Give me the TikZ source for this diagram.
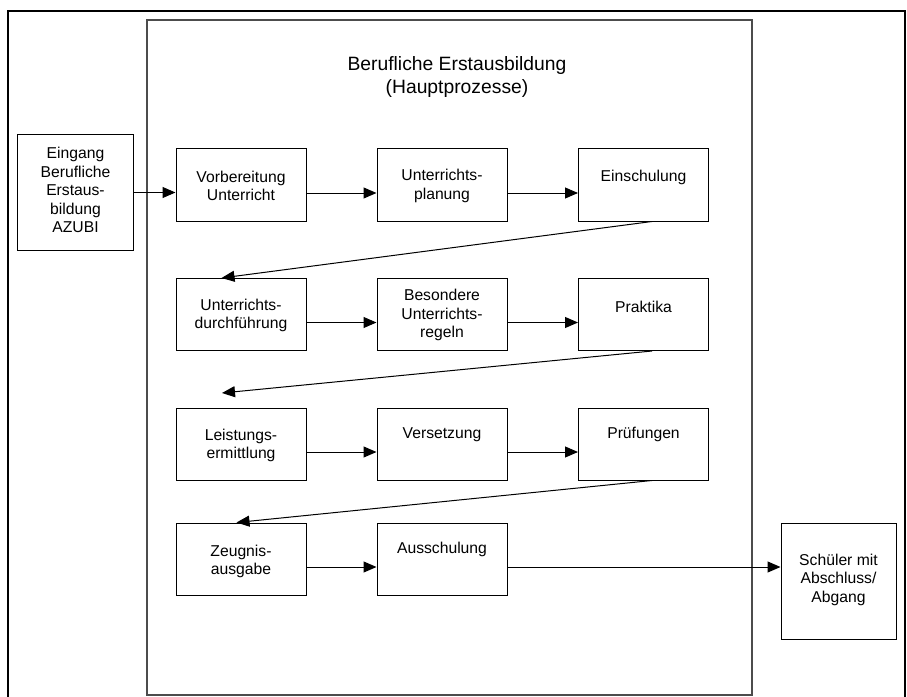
\documentclass[tikz,border=0pt]{standalone}
\usepackage{fontspec}
\setmainfont{Liberation Sans}
\usetikzlibrary{arrows.meta,calc}

\tikzset{
  procbox/.style={draw=black, line width=1bp, minimum width=130bp, minimum height=72bp, inner sep=0pt},
  sidebox/.style={draw=black, line width=1bp, inner sep=0pt},
  boxtext/.style={align=center, inner sep=0pt, font=\fontsize{15.7bp}{18.5bp}\selectfont},
  titletext/.style={align=center, inner sep=0pt, font=\fontsize{19.3bp}{23bp}\selectfont},
  flow/.style={line width=1bp, -{Triangle[length=13bp,width=11bp]}},
  outerframe/.style={line width=2.5bp, black},
  innerframe/.style={line width=1.5bp, draw=black!70}
}

\begin{document}
\begin{tikzpicture}[x=1bp, y=-1bp]
  \useasboundingbox (0,0) rectangle (907,697);

  % frames
  \draw[outerframe] (8,700) -- (8,11) -- (905,11) -- (905,700);
  \draw[innerframe] (147,20) rectangle (752,695);

  % title
  \node[titletext] (title) at (457,77.5) {Berufliche Erstausbildung\\(Hauptprozesse)};

  % input and output boxes
  \node[sidebox, minimum width=115bp, minimum height=115bp] (eing) at (75.5,192.5) {};
  \node[boxtext] (eingT) at (75.5,190) {Eingang\\Berufliche\\Erstaus-\\bildung\\AZUBI};
  \node[sidebox, minimum width=115bp, minimum height=116bp] (sch) at (838.5,581) {};
  \node[boxtext] (schT) at (838.5,579.5) {Schüler mit\\Abschluss/\\Abgang};

  % process boxes, row 1
  \node[procbox] (vorb) at (241,185) {};
  \node[boxtext] (vorbT) at (241,186) {Vorbereitung\\Unterricht};
  \node[procbox] (plan) at (442,185) {};
  \node[boxtext] (planT) at (442,186) {Unterrichts-\\planung};
  \node[procbox] (einsch) at (643.5,185) {};
  \node[boxtext] (einschT) at (643.5,177.5) {Einschulung};

  % row 2
  \node[procbox] (durch) at (241,314.5) {};
  \node[boxtext] (durchT) at (241,315.5) {Unterrichts-\\durchführung};
  \node[procbox] (bes) at (442,314.5) {};
  \node[boxtext] (besT) at (442,315) {Besondere\\Unterrichts-\\regeln};
  \node[procbox] (prak) at (643.5,314.5) {};
  \node[boxtext] (prakT) at (643.5,306.5) {Praktika};

  % row 3
  \node[procbox] (leist) at (241,444) {};
  \node[boxtext] (leistT) at (241,445.5) {Leistungs-\\ermittlung};
  \node[procbox] (vers) at (442,444) {};
  \node[boxtext] (versT) at (442,434.5) {Versetzung};
  \node[procbox] (pruef) at (643.5,444) {};
  \node[boxtext] (pruefT) at (643.5,434.5) {Prüfungen};

  % row 4
  \node[procbox] (zeug) at (241,559) {};
  \node[boxtext] (zeugT) at (241,561.5) {Zeugnis-\\ausgabe};
  \node[procbox] (aus) at (442,559) {};
  \node[boxtext] (ausT) at (442,549.5) {Ausschulung};

  % free end of the arrow leaving Praktika
  \coordinate (gap3) at (222,393);
  % connector ends on the exit line
  \coordinate (ausOut) at ($(aus.east)+(0,8)$);
  \coordinate (schIn) at (ausOut -| sch.west);

  % horizontal flow
  \draw[flow] (eing.east) -- (eing.east -| vorb.west);
  \draw[flow] ($(vorb.east)+(0,8)$) -- ($(plan.west)+(0,8)$);
  \draw[flow] ($(plan.east)+(0,8)$) -- ($(einsch.west)+(0,8)$);
  \draw[flow] ($(durch.east)+(0,8)$) -- ($(bes.west)+(0,8)$);
  \draw[flow] ($(bes.east)+(0,8)$) -- ($(prak.west)+(0,8)$);
  \draw[flow] ($(leist.east)+(0,8)$) -- ($(vers.west)+(0,8)$);
  \draw[flow] ($(vers.east)+(0,8)$) -- ($(pruef.west)+(0,8)$);
  \draw[flow] ($(zeug.east)+(0,8)$) -- ($(aus.west)+(0,8)$);
  \draw[flow] (ausOut) -- (schIn);

  % row changes
  \draw[flow] ($(einsch.south)+(8.5,0)$) -- ($(durch.north west)+(46,0)$);
  \draw[flow] ($(prak.south)+(8.5,0)$) -- (gap3);
  \draw[flow] ($(pruef.south)+(8.5,0)$) -- ($(zeug.north west)+(61,0)$);
\end{tikzpicture}
\end{document}
